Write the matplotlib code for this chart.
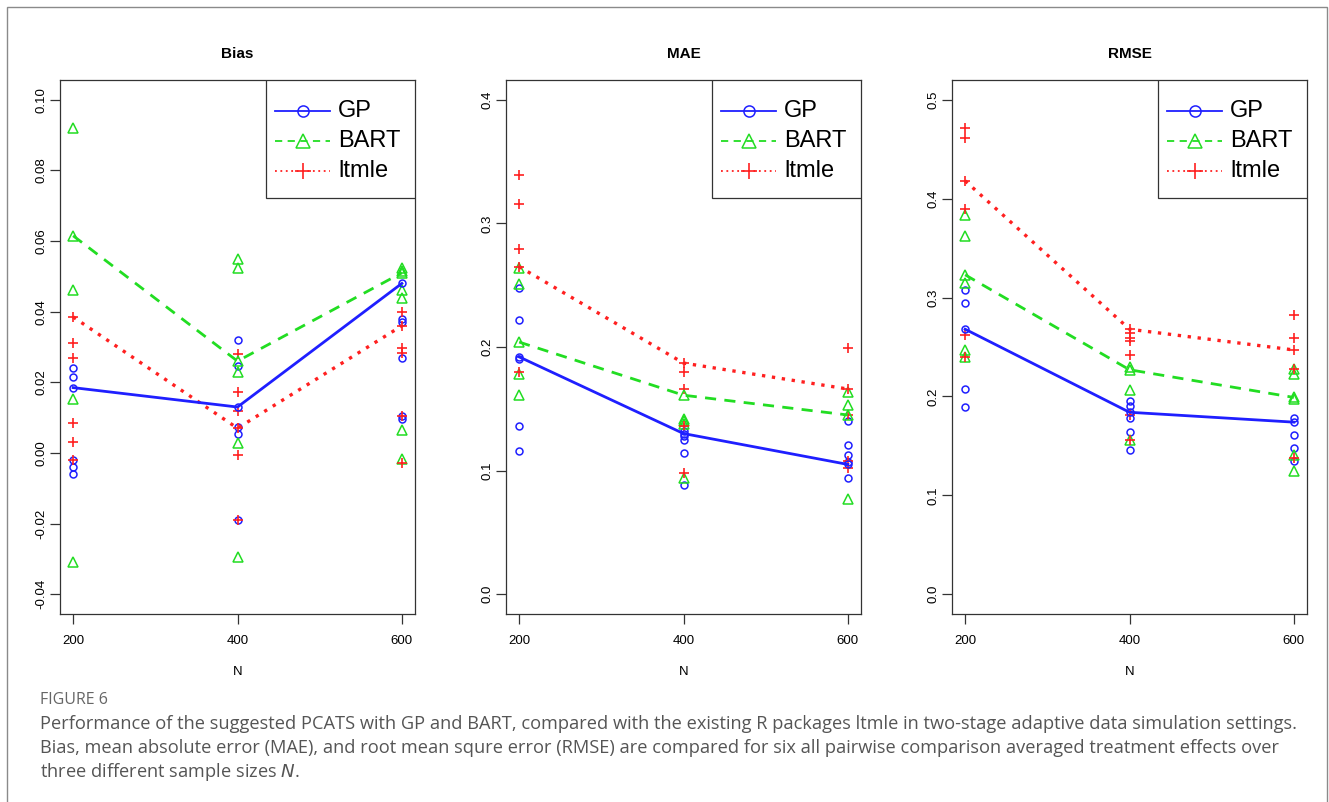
import matplotlib
matplotlib.use("Agg")
import matplotlib.pyplot as plt
from matplotlib.patches import Rectangle

N = [200, 400, 600]
methods = ["GP", "BART", "ltmle"]

# ---- mean lines ----
bias_lines = {"GP": [0.0185, 0.013, 0.048], "BART": [0.0615, 0.026, 0.051], "ltmle": [0.0385, 0.007, 0.036]}
mae_lines = {"GP": [0.192, 0.130, 0.105], "BART": [0.204, 0.161, 0.145], "ltmle": [0.265, 0.187, 0.166]}
rmse_lines = {"GP": [0.268, 0.184, 0.174], "BART": [0.323, 0.227, 0.199], "ltmle": [0.418, 0.268, 0.247]}

# ---- individual comparison points (per N: 200, 400, 600) ----
bias_gp = [[0.024, 0.0216, -0.002, -0.004, -0.006], [0.032, 0.0245, 0.0074, 0.0054, -0.019], [0.038, 0.037, 0.027, 0.0105, 0.0097]]
bias_bart = [[0.092, 0.046, 0.0153, -0.031], [0.055, 0.0525, 0.023, 0.0028, -0.0295], [0.0525, 0.0515, 0.046, 0.044, 0.0065, -0.0017]]
bias_ltmle = [[0.031, 0.027, 0.0085, 0.003, -0.002], [0.028, 0.0173, 0.012, -0.0006, -0.019], [0.0398, 0.0298, 0.0284, 0.0105, -0.0028]]

mae_gp = [[0.248, 0.222, 0.190, 0.136, 0.116], [0.132, 0.128, 0.125, 0.114, 0.088], [0.140, 0.121, 0.113, 0.107, 0.094]]
mae_bart = [[0.264, 0.251, 0.178, 0.161], [0.142, 0.140, 0.138, 0.094], [0.164, 0.153, 0.077]]
mae_ltmle = [[0.339, 0.316, 0.279, 0.180], [0.180, 0.166, 0.136, 0.098], [0.199, 0.145, 0.108, 0.102]]

rmse_gp = [[0.308, 0.295, 0.208, 0.189], [0.195, 0.190, 0.178, 0.164, 0.146], [0.178, 0.161, 0.148, 0.135]]
rmse_bart = [[0.383, 0.362, 0.315, 0.247, 0.240], [0.230, 0.207, 0.156], [0.228, 0.223, 0.197, 0.141, 0.125]]
rmse_ltmle = [[0.471, 0.461, 0.390, 0.262, 0.240], [0.264, 0.259, 0.256, 0.242, 0.181, 0.156], [0.282, 0.259, 0.228, 0.138]]

titles = ["Bias", "MAE", "RMSE"]
ylims = [(-0.04, 0.10), (0.0, 0.4), (0.0, 0.5)]
yticks = [[-0.04, -0.02, 0.0, 0.02, 0.04, 0.06, 0.08, 0.10], [0.0, 0.1, 0.2, 0.3, 0.4], [0.0, 0.1, 0.2, 0.3, 0.4, 0.5]]
yfmt = ["{:.2f}", "{:.1f}", "{:.1f}"]

colors = {"GP": "#1f1fff", "BART": "#22dd22", "ltmle": "#ff2020"}
markers = {"GP": "o", "BART": "^", "ltmle": "+"}
msizes = {"GP": 5.0, "BART": 6.5, "ltmle": 7.5}
styles = {"GP": "-", "BART": (0, (4, 3)), "ltmle": (0, (1, 2))}
lwidths = {"GP": 2.0, "BART": 2.0, "ltmle": 2.4}

plt.rcParams["font.family"] = ["Liberation Sans", "DejaVu Sans"]

W, H = 1329, 802
fig = plt.figure(figsize=(W / 100, H / 100), dpi=100)
fig.patches.append(Rectangle((7 / W, -0.05), (1327 - 7) / W, 1.05 - 7 / H, transform=fig.transFigure,
                             fill=False, edgecolor="#8a8a8a", linewidth=1.0))

lefts = [60, 506, 952]
ax_w, ax_top, ax_bot = 355, 80, 614
ax_h = ax_bot - ax_top

data = [
    (bias_lines, {"GP": bias_gp, "BART": bias_bart, "ltmle": bias_ltmle}),
    (mae_lines, {"GP": mae_gp, "BART": mae_bart, "ltmle": mae_ltmle}),
    (rmse_lines, {"GP": rmse_gp, "BART": rmse_bart, "ltmle": rmse_ltmle}),
]

def mk_style(m, scale=1.0):
    if m == "ltmle":
        return dict(marker="+", markersize=msizes[m] * scale, markeredgewidth=1.2, color=colors[m])
    return dict(marker=markers[m], markersize=msizes[m] * scale, markerfacecolor="none",
                markeredgecolor=colors[m], markeredgewidth=1.1, color=colors[m])

for i in range(3):
    ax = fig.add_axes([lefts[i] / W, (H - ax_bot) / H, ax_w / W, ax_h / H])
    lines, pts = data[i]
    for m in methods:
        for j, n in enumerate(N):
            vals = pts[m][j]
            ax.plot([n] * len(vals), vals, linestyle="none", **mk_style(m))
    for m in ["ltmle", "BART", "GP"]:
        ax.plot(N, lines[m], linestyle=styles[m], linewidth=lwidths[m], **mk_style(m))
    lo, hi = ylims[i]
    ext = (hi - lo) * 0.04
    ax.set_ylim(lo - ext, hi + ext)
    ax.set_xlim(200 - 16, 600 + 16)
    ax.set_xticks(N)
    ax.set_xticklabels([str(n) for n in N])
    ax.set_yticks(yticks[i])
    ax.set_yticklabels([yfmt[i].format(v) for v in yticks[i]], rotation=90, va="center")
    ax.tick_params(axis="both", direction="out", length=7, width=0.9, labelsize=9.5, color="#333333")
    ax.tick_params(axis="x", pad=8)
    ax.tick_params(axis="y", pad=2)
    for s in ax.spines.values():
        s.set_color("#333333")
        s.set_linewidth(0.9)
    ax.set_title(titles[i], fontsize=11, fontweight="bold", pad=16)
    ax.set_xlabel("N", fontsize=9.5, labelpad=14)

    # manual R-style legend box in the top-right corner
    bx0 = 206 / ax_w
    by0 = 1 - 118 / ax_h
    ax.add_patch(Rectangle((bx0, by0), 1 - bx0, 1 - by0, transform=ax.transAxes, fill=True,
                           facecolor="white", edgecolor="#333333", linewidth=0.9, zorder=5))
    for k, m in enumerate(methods):
        yy = 1 - (31 + 30 * k) / ax_h
        ax.plot([215 / ax_w, 270 / ax_w], [yy, yy], transform=ax.transAxes, linestyle=styles[m],
                linewidth=1.3, color=colors[m], zorder=6)
        ax.plot([242.5 / ax_w], [yy], transform=ax.transAxes, linestyle="none", zorder=6,
                **mk_style(m, 1.6))
        ax.text(278 / ax_w, yy, m, transform=ax.transAxes, fontsize=17, va="center", ha="left", zorder=6)

cap_font = ["Open Sans", "DejaVu Sans"]
fig.text(40 / W, 1 - 700 / H, "FIGURE 6", fontsize=11.5, color="#666666", family=cap_font, va="center")
cap_lines = [
    "Performance of the suggested PCATS with GP and BART, compared with the existing R packages ltmle in two-stage adaptive data simulation settings.",
    "Bias, mean absolute error (MAE), and root mean squre error (RMSE) are compared for six all pairwise comparison averaged treatment effects over",
    "three different sample sizes $\\mathit{N}$.",
]
for k, t in enumerate(cap_lines):
    fig.text(40 / W, 1 - (724 + 24 * k) / H, t, fontsize=13.15, color="#555555", family=cap_font, va="center")

fig.savefig("out.png", dpi=100)
